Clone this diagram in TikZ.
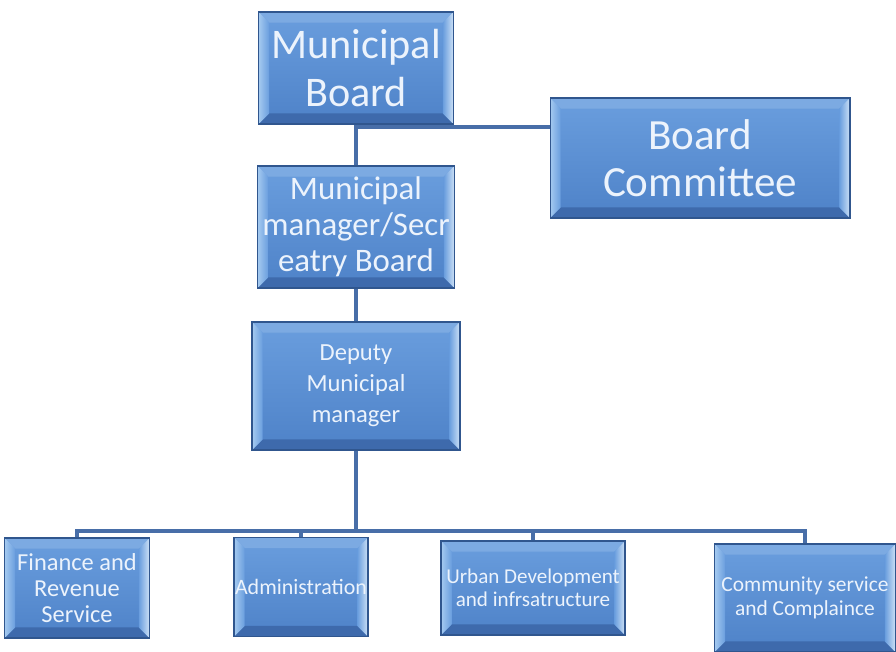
\documentclass[tikz,border=0pt]{standalone}
\usepackage{fontspec}
\setmainfont{Carlito}
\usetikzlibrary{calc}
\definecolor{facetop}{RGB}{106,158,222}
\definecolor{facebot}{RGB}{78,130,200}
\definecolor{boxedge}{RGB}{48,86,142}
\definecolor{bevleft}{RGB}{165,202,240}
\definecolor{bevright}{RGB}{205,225,246}
\definecolor{bevtop}{RGB}{124,170,226}
\definecolor{bevbot}{RGB}{62,106,172}
\definecolor{linkblue}{RGB}{72,110,168}
\definecolor{boxtext}{RGB}{236,243,252}
\tikzset{orgbox/.style={draw=boxedge, line width=0.6pt, text=boxtext, align=center, inner sep=0pt,
    path picture={
        \path (path picture bounding box.south west) coordinate (bsw)
              (path picture bounding box.north east) coordinate (bne)
              (path picture bounding box.north west) coordinate (bnw)
              (path picture bounding box.south east) coordinate (bse);
        \shade[top color=facetop, bottom color=facebot] (bsw) rectangle (bne);
        \fill[bevtop] (bnw) -- (bne) -- ($(bne)+(-6pt,-6pt)$) -- ($(bnw)+(6pt,-6pt)$) -- cycle;
        \fill[bevbot] (bsw) -- (bse) -- ($(bse)+(-6pt,6pt)$) -- ($(bsw)+(6pt,6pt)$) -- cycle;
        \shade[left color=bevleft, right color=facetop] (bsw) -- (bnw) -- ($(bnw)+(6pt,-6pt)$) -- ($(bsw)+(6pt,6pt)$) -- cycle;
        \shade[left color=facetop, right color=bevright] (bse) -- (bne) -- ($(bne)+(-6pt,-6pt)$) -- ($(bse)+(-6pt,6pt)$) -- cycle;
    }},
  link/.style={draw=linkblue, line width=1.8pt}}

\begin{document}
\begin{tikzpicture}[x=0.02cm, y=-0.02cm]
\useasboundingbox (0,0) rectangle (896,652);
% boxes
\node[orgbox, minimum width=3.9cm, minimum height=2.24cm, font=\fontsize{24}{27}\selectfont] (board) at (356,68) {Municipal\\Board};
\node[orgbox, minimum width=6cm, minimum height=2.4cm, font=\fontsize{24.5}{27}\selectfont] (committee) at (700,158) {Board\\Committee};
\node[orgbox, minimum width=3.94cm, minimum height=2.44cm, font=\fontsize{18.7}{20.4}\selectfont] (manager) at (356,227) {Municipal\\manager/Secr\\eatry Board};
\node[orgbox, minimum width=4.16cm, minimum height=2.56cm, font=\fontsize{14}{17.6}\selectfont] (deputy) at (356,386) {Deputy\\Municipal\\manager};
\node[orgbox, minimum width=2.9cm, minimum height=2cm, font=\fontsize{13.9}{14.7}\selectfont] (finance) at (77,588) {Finance and\\Revenue\\Service};
\node[orgbox, minimum width=2.68cm, minimum height=1.98cm, font=\fontsize{12.5}{14}\selectfont] (admin) at (301,587) {Administration};
\node[orgbox, minimum width=3.68cm, minimum height=1.88cm, font=\fontsize{12}{13}\selectfont] (urban) at (533,588) {Urban Development\\and infrsatructure};
\node[orgbox, minimum width=3.62cm, minimum height=2.16cm, font=\fontsize{12.2}{13.6}\selectfont] (community) at (805,598) {Community service\\and Complaince};
% connectors
\coordinate (bj) at (356,127);
\coordinate (bus) at (356,531);
\draw[link] (board.south) -- (manager.north);
\draw[link] (bj) -- (bj -| committee.west);
\draw[link] (manager.south) -- (deputy.north);
\draw[link] (deputy.south) -- (bus);
\draw[link] (finance.north) |- (bus) -| (community.north);
\draw[link] (admin.north) -- (admin.north |- bus);
\draw[link] (urban.north) -- (urban.north |- bus);
\end{tikzpicture}
\end{document}
